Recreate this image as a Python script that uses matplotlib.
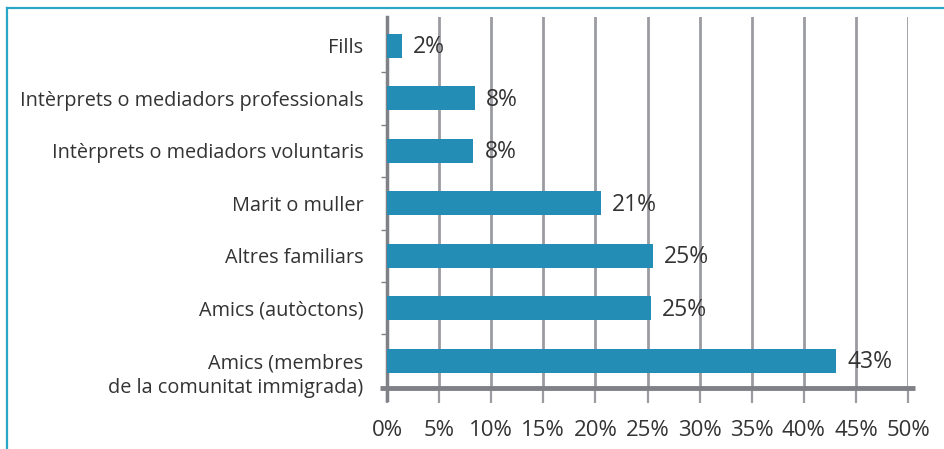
import matplotlib
matplotlib.use("Agg")
import matplotlib.pyplot as plt
import matplotlib.transforms as mtransforms
from matplotlib.lines import Line2D
import numpy as np

plt.rcParams["font.family"] = ["Open Sans", "DejaVu Sans"]

# Data, bottom to top as drawn
categories = [
    "Amics (membres\nde la comunitat immigrada)",
    "Amics (autòctons)",
    "Altres familiars",
    "Marit o muller",
    "Intèrprets o mediadors voluntaris",
    "Intèrprets o mediadors professionals",
    "Fills",
]
values = [43.1, 25.3, 25.5, 20.5, 8.3, 8.4, 1.4]
value_labels = ["43%", "25%", "25%", "21%", "8%", "8%", "2%"]
xticks = [0, 5, 10, 15, 20, 25, 30, 35, 40, 45, 50]
xtick_labels = [f"{t}%" for t in xticks]

BAR = "#238db6"
GRID = "#9b9ba2"
AXIS = "#808186"
TEXT = "#333333"
FRAME = "#2aa6c6"

fig = plt.figure(figsize=(9.44, 4.49), dpi=100)
ax = fig.add_axes([387 / 944, 1 - 388 / 449, 521 / 944, 371 / 449])

y = np.arange(len(categories))
ax.barh(y, values, height=0.46, color=BAR, zorder=3)

for yi, v, lab in zip(y, values, value_labels):
    ax.annotate(lab, (v, yi), xytext=(8, -1), textcoords="offset points",
                ha="left", va="center", fontsize=16.5, color=TEXT, zorder=4)

ax.set_xlim(0, 50)
ax.set_ylim(-0.52, len(categories) - 0.45)

ax.set_xticks(xticks)
ax.set_xticklabels(xtick_labels)
ax.set_yticks(y)
ax.set_yticklabels(categories, linespacing=1.35)
ax.set_yticks(y[:-1] + 0.5, minor=True)

ax.grid(axis="x", color=GRID, linewidth=2, zorder=1)
ax.tick_params(axis="x", length=11, width=1.6, color=GRID, pad=12,
               labelsize=16, labelcolor=TEXT)
ax.tick_params(axis="y", which="major", length=0, pad=17,
               labelsize=14.3, labelcolor=TEXT)
ax.tick_params(axis="y", which="minor", length=4, width=1, color=AXIS)
for lab in ax.get_yticklabels():
    lab.set_horizontalalignment("right")
    lab.set_multialignment("right")

# the two-line label sits a little lower than its bar
first = ax.get_yticklabels()[0]
first.set_transform(first.get_transform() +
                    mtransforms.ScaledTranslation(0, -10 / 100, fig.dpi_scale_trans))

for side in ["top", "right", "bottom"]:
    ax.spines[side].set_visible(False)
ax.spines["left"].set_color(AXIS)
ax.spines["left"].set_linewidth(2.5)
ax.spines["left"].set_bounds(-0.75, len(categories) - 0.45)

# thick baseline running past both ends
ax.plot([-0.7, 50.7], [-0.52, -0.52], color=AXIS, linewidth=3.5,
        clip_on=False, zorder=5, solid_capstyle="butt")

# outer frame (top and left edges visible)
fig.add_artist(Line2D([7 / 944, 7 / 944], [0, 1 - 8 / 449],
                      transform=fig.transFigure, color=FRAME, linewidth=1.6))
fig.add_artist(Line2D([7 / 944, 1], [1 - 8 / 449, 1 - 8 / 449],
                      transform=fig.transFigure, color=FRAME, linewidth=1.6))

fig.savefig("out.png", dpi=100)
